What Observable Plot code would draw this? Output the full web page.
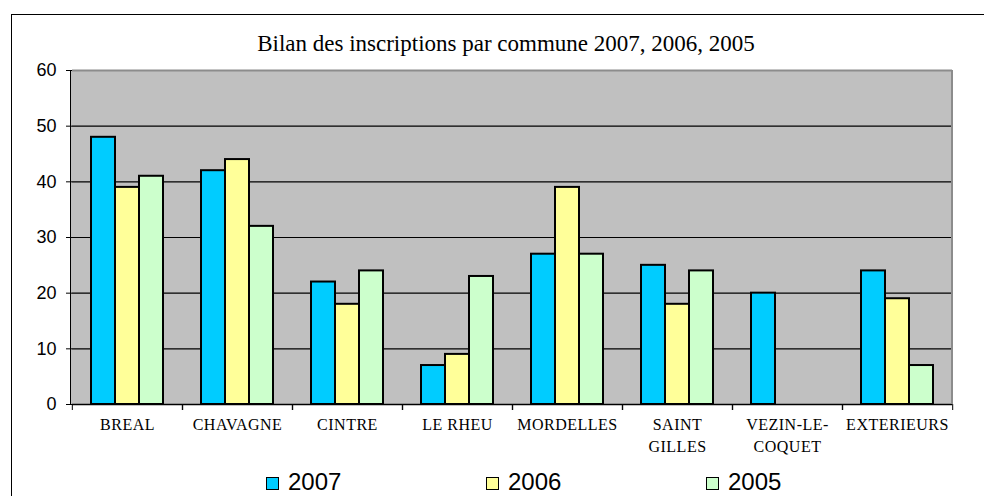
<!DOCTYPE html>
<html>
<head>
<meta charset="utf-8">
<script src="https://cdn.jsdelivr.net/npm/d3@7"></script>
<script src="https://cdn.jsdelivr.net/npm/@observablehq/plot@0.6"></script>
<style>
  html, body { margin: 0; padding: 0; background: #fff; }
  #wrap { position: relative; width: 984px; height: 496px; overflow: hidden; background: #fff; }
  #outer { position: absolute; left: 11px; top: 14px; width: 1200px; height: 800px;
           border-top: 1px solid #000; border-left: 1px solid #000; }
  #title { position: absolute; left: 11px; width: 990px; top: 31px; text-align: center;
           font-family: "Liberation Serif", serif; font-size: 23px; color: #000; line-height: 26px; }
  #bg { position: absolute; left: 70px; top: 70px; width: 883px; height: 334px; background: #c0c0c0; }
  #chart { position: absolute; left: 0; top: 56px; }
  #edge { position: absolute; left: 70px; top: 70px; width: 883px; height: 334px; box-sizing: border-box;
          border-left: 1px solid #000; border-right: 2px solid #8c8c8c; pointer-events: none; }
  .leg { position: absolute; top: 468px; display: flex; align-items: center;
         font-family: "Liberation Sans", Arial, sans-serif; font-size: 24px; color: #000; line-height: 28px; }
  .sw { width: 13px; height: 13px; box-sizing: border-box; border: 1.5px solid #000; margin-right: 9px; margin-top: 2px; }
  g[aria-label="fx-axis tick label"] text { letter-spacing: 0.5px; }
</style>
</head>
<body>
<div id="wrap">
  <div id="outer"></div>
  <div id="title"></div>
  <div id="bg"></div>
  <div id="chart"></div>
  <div id="edge"></div>
  <div id="legend"></div>
</div>
<script>
const title = "Bilan des inscriptions par commune 2007, 2006, 2005";
const communes = ["BREAL", "CHAVAGNE", "CINTRE", "LE RHEU", "MORDELLES", "SAINT GILLES", "VEZIN-LE-COQUET", "EXTERIEURS"];
const communeLabels = ["BREAL", "CHAVAGNE", "CINTRE", "LE RHEU", "MORDELLES", "SAINT\nGILLES", "VEZIN-LE-\nCOQUET", "EXTERIEURS"];
const years = ["2007", "2006", "2005"];
const values2007 = [48, 42, 22, 7, 27, 25, 20, 24];
const values2006 = [39, 44, 18, 9, 39, 18, 0, 19];
const values2005 = [41, 32, 24, 23, 27, 24, 0, 7];
const yTicks = [0, 10, 20, 30, 40, 50, 60];
const colors = ["#00ccff", "#ffff99", "#ccffcc"];

const series = [values2007, values2006, values2005];
const data = [];
communes.forEach((c, i) => {
  years.forEach((y, j) => {
    data.push({commune: c, year: y, value: series[j][i]});
  });
});
const labelOf = new Map(communes.map((c, i) => [c, communeLabels[i]]));

const W = 984, mLeft = 70, mRight = 31;
const plotH = 430, mTop = 14, mBottom = 82;
const halfStep = (W - mLeft - mRight) / communes.length / 2;

document.getElementById("title").textContent = title;

const chart = Plot.plot({
  width: W,
  height: plotH,
  marginTop: mTop,
  marginBottom: mBottom,
  marginLeft: mLeft,
  marginRight: mRight,
  style: {background: "transparent", fontFamily: "Liberation Sans, Arial, sans-serif", color: "#000"},
  fx: {domain: communes, padding: 0},
  x: {domain: years, paddingInner: 0, paddingOuter: 0.7, axis: null},
  y: {domain: [0, 60]},
  color: {domain: years, range: colors},
  marks: [
    Plot.ruleY(yTicks.filter(t => t > 0 && t < 60), {stroke: "#000", strokeWidth: 1.2}),
    Plot.ruleY([60], {stroke: "#8c8c8c", strokeWidth: 2}),
    Plot.barY(data.filter(d => d.value > 0), {
      fx: "commune", x: "year", y: "value", fill: "year",
      stroke: "#000", strokeWidth: 2
    }),
    Plot.ruleY([0], {stroke: "#000", strokeWidth: 1.5}),
    Plot.axisY({ticks: yTicks, tickSize: 6, tickPadding: 10, fontSize: 18,
                fontFamily: "Liberation Sans, Arial, sans-serif", label: null}),
    Plot.axisFx({anchor: "bottom", tickSize: 6, dx: halfStep, tickFormat: () => "", label: null}),
    Plot.axisFx({anchor: "bottom", tickSize: 6, dx: -halfStep, tickFormat: () => "", label: null}),
    Plot.axisFx({anchor: "bottom", tickSize: 0, tickPadding: 10, fontSize: 16, lineHeight: 1.38,
                 fontFamily: "Liberation Serif, serif", label: null,
                 tickFormat: d => labelOf.get(d)})
  ]
});
document.getElementById("chart").appendChild(chart);

const legendX = [266, 486, 706];
const legend = document.getElementById("legend");
years.forEach((y, i) => {
  const item = document.createElement("div");
  item.className = "leg";
  item.style.left = legendX[i] + "px";
  const sw = document.createElement("div");
  sw.className = "sw";
  sw.style.background = colors[i];
  const t = document.createElement("span");
  t.textContent = y;
  item.appendChild(sw);
  item.appendChild(t);
  legend.appendChild(item);
});
</script>
</body>
</html>
